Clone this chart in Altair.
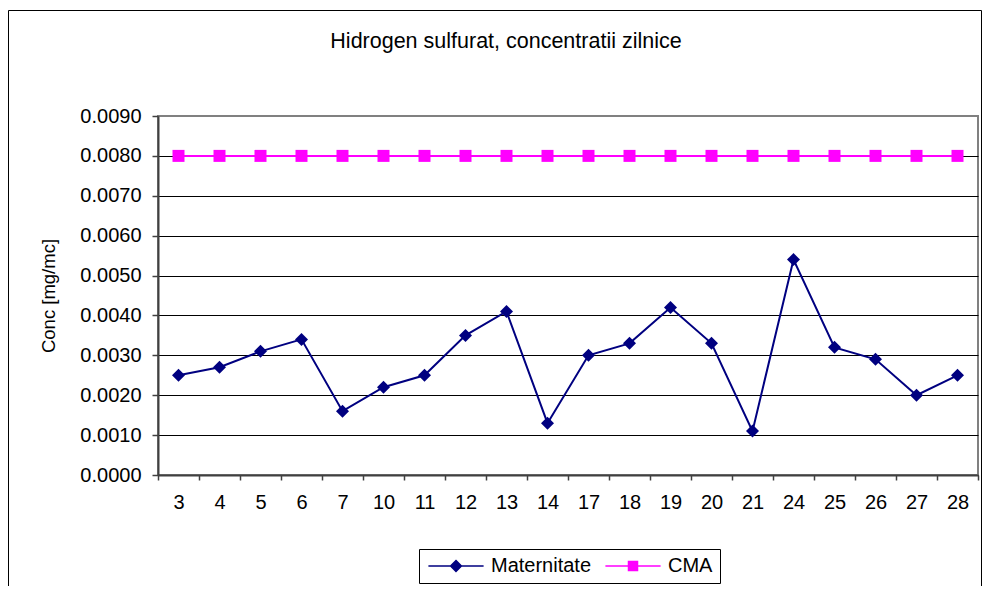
import altair as alt
import pandas as pd

days = ["3", "4", "5", "6", "7", "10", "11", "12", "13", "14",
        "17", "18", "19", "20", "21", "24", "25", "26", "27", "28"]
maternitate = [0.0025, 0.0027, 0.0031, 0.0034, 0.0016, 0.0022, 0.0025, 0.0035, 0.0041, 0.0013,
               0.0030, 0.0033, 0.0042, 0.0033, 0.0011, 0.0054, 0.0032, 0.0029, 0.0020, 0.0025]
cma = [0.008, 0.008, 0.008, 0.008, 0.008, 0.008, 0.008, 0.008, 0.008, 0.008,
       0.008, 0.008, 0.008, 0.008, 0.008, 0.008, 0.008, 0.008, 0.008, 0.008]
y_ticks = [0.0, 0.001, 0.002, 0.003, 0.004, 0.005, 0.006, 0.007, 0.008, 0.009]
series = ["Maternitate", "CMA"]
colors = ["#000080", "#FF00FF"]
chart_title = "Hidrogen sulfurat, concentratii zilnice"

df = pd.concat([
    pd.DataFrame({"day": days, "value": maternitate, "series": series[0]}),
    pd.DataFrame({"day": days, "value": cma, "series": series[1]}),
], ignore_index=True)

FONT = "Liberation Sans"

x_enc = alt.X("day:O", sort=days,
              scale=alt.Scale(type="band", paddingInner=0, paddingOuter=0),
              axis=alt.Axis(title=None, labelAngle=0, tickBand="extent", ticks=True,
                            tickSize=5, tickColor="#404040", tickWidth=1.5,
                            domainColor="#404040", domainWidth=2,
                            labelFontSize=20, labelPadding=12, grid=False))
y_enc = alt.Y("value:Q", scale=alt.Scale(domain=[0, 0.009], nice=False, zero=True),
              axis=alt.Axis(values=y_ticks, format=".4f", title="Conc [mg/mc]",
                            titleFontSize=18.5, titleFontWeight="normal", titlePadding=21,
                            labelFontSize=20, labelPadding=11, tickSize=6,
                            tickColor="#404040", tickWidth=1.5,
                            domainColor="#404040", domainWidth=2,
                            grid=True, gridWidth=1,
                            gridColor={"condition": {"test": "datum.value > 0.0085", "value": "#808080"},
                                       "value": "#000000"}))

base = alt.Chart(df).encode(x=x_enc, y=y_enc)

line_m = base.transform_filter(alt.datum.series == series[0]).mark_line(color=colors[0], strokeWidth=2)
pts_m = base.transform_filter(alt.datum.series == series[0]).mark_point(
    shape="diamond", filled=True, size=169, color=colors[0], opacity=1)
line_c = base.transform_filter(alt.datum.series == series[1]).mark_line(color=colors[1], strokeWidth=2)
pts_c = base.transform_filter(alt.datum.series == series[1]).mark_point(
    shape="square", filled=True, size=144, color=colors[1], opacity=1)

path_m = "M-4.6,0L4.6,0M0,-0.9L0.9,0L0,0.9L-0.9,0Z"
path_c = "M-4.6,0L4.6,0M-0.75,-0.75L0.75,-0.75L0.75,0.75L-0.75,0.75Z"

leg = alt.Legend(title=None, orient="none", legendX=261, legendY=433, direction="horizontal",
                 strokeColor="#000000", padding=7, symbolSize=144, symbolStrokeWidth=1.5,
                 symbolOffset=20, labelOffset=25, labelFontSize=20, labelFont=FONT,
                 labelColor="#000000", columnPadding=10, symbolOpacity=1)

legend_layer = base.mark_point(filled=True, opacity=0).encode(
    fill=alt.Fill("series:N", scale=alt.Scale(domain=series, range=colors), legend=leg),
    stroke=alt.Stroke("series:N", scale=alt.Scale(domain=series, range=colors), legend=leg),
    shape=alt.Shape("series:N", scale=alt.Scale(domain=series, range=[path_m, path_c]), legend=leg),
)

one = alt.Data(values=[{"a": 1}])
border = alt.Chart(one).mark_rect(
    fill="transparent", stroke="#000000", strokeWidth=1).encode(
    x=alt.value(-149.5), x2=alt.value(823.5), y=alt.value(-105.5), y2=alt.value(700))

title_mark = alt.Chart(one).mark_text(
    text=chart_title, font=FONT, fontSize=21.5, color="#000000",
    align="center", baseline="alphabetic").encode(
    x=alt.value(348), y=alt.value(-68))

chart = alt.layer(border, title_mark, line_c, pts_c, line_m, pts_m, legend_layer).properties(
    width=820, height=359,
    autosize=alt.AutoSizeParams(type="none"),
    padding={"left": 150, "top": 108, "right": 4, "bottom": 111},
).configure_axis(
    labelFont=FONT, titleFont=FONT, labelColor="#000000", titleColor="#000000"
).configure_view(
    stroke="#808080", strokeWidth=2
)

chart.save("out.html", embed_options={"renderer": "svg", "actions": False})
